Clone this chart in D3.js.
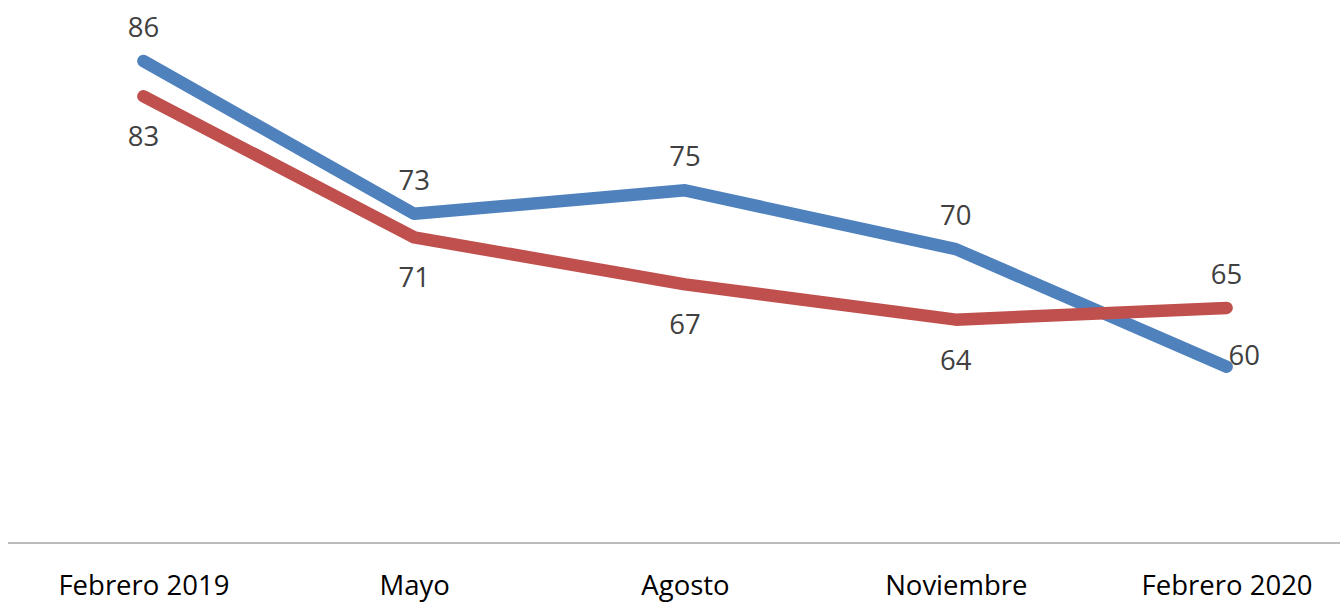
<!DOCTYPE html>
<html><head><meta charset="utf-8">
<script src="https://cdn.jsdelivr.net/npm/d3@7"></script>
<style>html,body{margin:0;padding:0;background:#fff;}svg{display:block;}</style>
</head><body>
<svg id="c" width="1340" height="602"></svg>
<script>
const categories = ["Febrero 2019", "Mayo", "Agosto", "Noviembre", "Febrero 2020"];
const blueValues = [86, 73, 75, 70, 60];
const redValues = [83, 71, 67, 64, 65];
// label placement per point: "above", "below", "right"
const bluePlacement = ["above", "above", "above", "above", "right"];
const redPlacement = ["below", "below", "below", "below", "above"];

const svg = d3.select("#c");
const font = "'Open Sans', 'Noto Sans', sans-serif";
const x = d3.scalePoint().domain(categories).range([8, 1362]).padding(0.5);
const y = d3.scaleLinear().domain([45, 90]).range([543, 14]);

// baseline axis
const axis = d3.axisBottom(x).tickSize(0).tickPadding(0);
const ag = svg.append("g").attr("transform", "translate(0,543)").call(axis);
ag.select(".domain").attr("stroke", "#a6a6a6").attr("stroke-width", 1.5).attr("d", "M8,0H1340");
ag.selectAll(".tick text").attr("dy", null).attr("y", 52)
  .attr("font-family", font).attr("font-size", 27.5).attr("fill", "#000");

const line = d3.line().x((d, i) => x(categories[i])).y(d => y(d));
const series = [
  {vals: blueValues, color: "#4F81BD", place: bluePlacement},
  {vals: redValues, color: "#C0504D", place: redPlacement}
];
series.forEach(s => {
  svg.append("path").datum(s.vals).attr("d", line)
    .attr("fill", "none").attr("stroke", s.color).attr("stroke-width", 12.5)
    .attr("stroke-linecap", "round").attr("stroke-linejoin", "round");
});
series.forEach(s => {
  svg.append("g").selectAll("text").data(s.vals).join("text")
    .attr("x", (d, i) => s.place[i] === "right" ? x(categories[i]) + 2 : x(categories[i]))
    .attr("y", (d, i) => s.place[i] === "above" ? y(d) - 24 : s.place[i] === "below" ? y(d) + 50 : y(d) - 2)
    .attr("text-anchor", (d, i) => s.place[i] === "right" ? "start" : "middle")
    .attr("font-family", font).attr("font-size", 27.5).attr("fill", "#404040")
    .text(d => d);
});
</script>
</body></html>
